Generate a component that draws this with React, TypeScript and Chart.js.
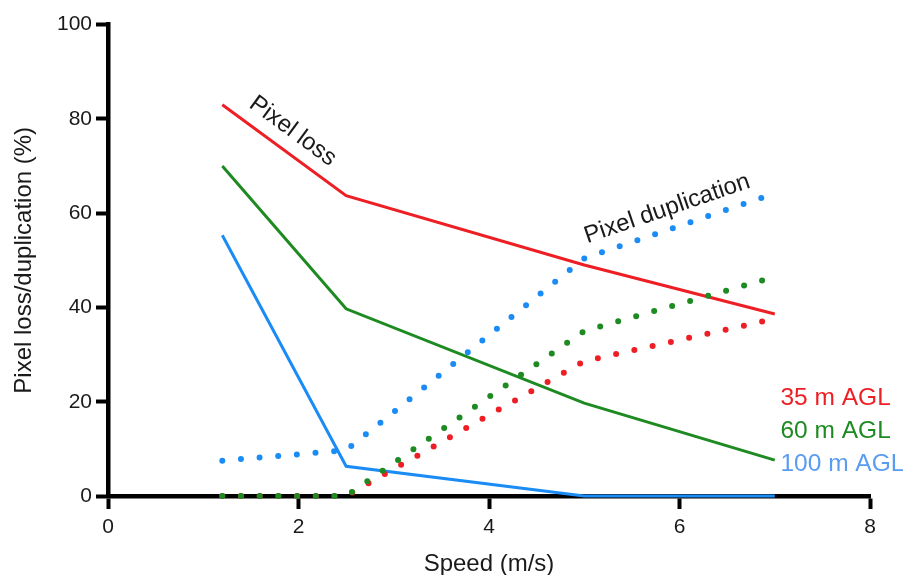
import React, { useEffect, useRef } from "react";
import { Chart, registerables } from "chart.js";

Chart.register(...registerables);

// ---- data ----
const speeds = [1.2, 2.5, 5, 7];
const lossAGL35 = [83, 63.7, 49, 38.6];
const lossAGL60 = [70, 39.7, 19.7, 7.6];
const lossAGL100 = [55.3, 6.3, 0, 0];
const dupAGL35 = [0, 0, 28.6, 37.6];
const dupAGL60 = [0, 0, 35, 46.5];
const dupAGL100 = [7.5, 9.7, 50.4, 64.2];
const xTickValues = [0, 2, 4, 6, 8];
const yTickValues = [0, 20, 40, 60, 80, 100];
const altitudeLabels = ["35 m AGL", "60 m AGL", "100 m AGL"];
const xTitle = "Speed (m/s)";
const yTitle = "Pixel loss/duplication (%)";
const lossText = "Pixel loss";
const dupText = "Pixel duplication";

// ---- styling / placement (data coordinates for text) ----
const RED = "#ee1f24";
const GREEN = "#1e8a22";
const BLUE = "#1b8cf5";
const BLUE_TEXT = "#5a9cf0";
const TEXT = "#1a1a1a";
const FONT = '"Liberation Sans", Arial, Helvetica, sans-serif';
const lossLabelAt = { x: 1.94, y: 77.4 };
const dupLabelAt = { x: 5.87, y: 60.9 };
const legendAt = { x: 7.06, ys: [20.8, 13.7, 6.7] };

const pts = (ys: number[]) => speeds.map((s, i) => ({ x: s, y: ys[i] }));

const textPlugin = {
  id: "textAnnotations",
  afterDatasetsDraw(chart: any) {
    const { ctx } = chart;
    const xs = chart.scales.x;
    const ys = chart.scales.y;
    const angleOf = (vals: number[], i: number) =>
      Math.atan2(
        ys.getPixelForValue(vals[i + 1]) - ys.getPixelForValue(vals[i]),
        xs.getPixelForValue(speeds[i + 1]) - xs.getPixelForValue(speeds[i])
      );
    ctx.save();
    ctx.font = `24px ${FONT}`;
    ctx.fillStyle = TEXT;
    ctx.textAlign = "center";
    ctx.textBaseline = "middle";
    const drawRot = (txt: string, at: { x: number; y: number }, ang: number) => {
      ctx.save();
      ctx.translate(xs.getPixelForValue(at.x), ys.getPixelForValue(at.y));
      ctx.rotate(ang);
      ctx.fillText(txt, 0, 0);
      ctx.restore();
    };
    drawRot(lossText, lossLabelAt, angleOf(lossAGL35, 0));
    drawRot(dupText, dupLabelAt, angleOf(dupAGL100, 2));

    ctx.textAlign = "left";
    ctx.font = `24.5px ${FONT}`;
    const colors = [RED, GREEN, BLUE_TEXT];
    altitudeLabels.forEach((lab, i) => {
      ctx.fillStyle = colors[i];
      ctx.fillText(lab, xs.getPixelForValue(legendAt.x), ys.getPixelForValue(legendAt.ys[i]));
    });
    ctx.restore();
  },
};

export default function App() {
  const ref = useRef<HTMLCanvasElement | null>(null);

  useEffect(() => {
    if (!ref.current) return;
    const dotted = (data: number[], color: string) => ({
      data: pts(data),
      borderColor: color,
      backgroundColor: color,
      borderWidth: 6,
      borderDash: [0, 18.7],
      borderCapStyle: "round" as const,
      pointRadius: 0,
      tension: 0,
      clip: false as any,
    });
    const solid = (data: number[], color: string) => ({
      data: pts(data),
      borderColor: color,
      backgroundColor: color,
      borderWidth: 3,
      pointRadius: 0,
      tension: 0,
      clip: false as any,
    });
    const chart = new Chart(ref.current, {
      type: "line",
      data: {
        datasets: [
          dotted(dupAGL100, BLUE),
          dotted(dupAGL60, GREEN),
          dotted(dupAGL35, RED),
          solid(lossAGL100, BLUE),
          solid(lossAGL60, GREEN),
          solid(lossAGL35, RED),
        ] as any,
      },
      options: {
        animation: false,
        responsive: false,
        layout: { padding: { left: 0, top: 12, right: 33, bottom: 0 } },
        plugins: { legend: { display: false }, tooltip: { enabled: false } },
        scales: {
          x: {
            type: "linear",
            min: 0,
            max: 8,
            afterBuildTicks: (s: any) => {
              s.ticks = xTickValues.map((v) => ({ value: v }));
            },
            ticks: { font: { size: 21, family: FONT }, color: TEXT, padding: 6 },
            grid: {
              drawOnChartArea: false,
              drawTicks: true,
              tickLength: 13,
              tickWidth: 4,
              tickColor: "#000",
            },
            border: { display: true, color: "#000", width: 4.5 },
            title: {
              display: true,
              text: xTitle,
              color: TEXT,
              font: { size: 24, family: FONT, lineHeight: 0.9 },
              padding: { top: 0, bottom: 0 },
            },
            afterFit: (s: any) => {
              s.height = 79;
            },
          },
          y: {
            type: "linear",
            min: 0,
            max: 100,
            afterBuildTicks: (s: any) => {
              s.ticks = yTickValues.map((v) => ({ value: v }));
            },
            ticks: { font: { size: 21, family: FONT }, color: TEXT, padding: 4 },
            grid: {
              drawOnChartArea: false,
              drawTicks: true,
              tickLength: 12,
              tickWidth: 4,
              tickColor: "#000",
            },
            border: { display: true, color: "#000", width: 4.5 },
            title: {
              display: true,
              text: yTitle,
              color: TEXT,
              font: { size: 24, family: FONT, lineHeight: 1.2 },
              padding: { top: 2, bottom: 0 },
            },
            afterFit: (s: any) => {
              s.width = 100;
            },
          },
        },
      },
      plugins: [textPlugin],
    });
    return () => chart.destroy();
  }, []);

  return (
    <div style={{ width: 895, height: 567 }}>
      <canvas ref={ref} width={895} height={567} style={{ width: 895, height: 567, display: "block" }} />
    </div>
  );
}
